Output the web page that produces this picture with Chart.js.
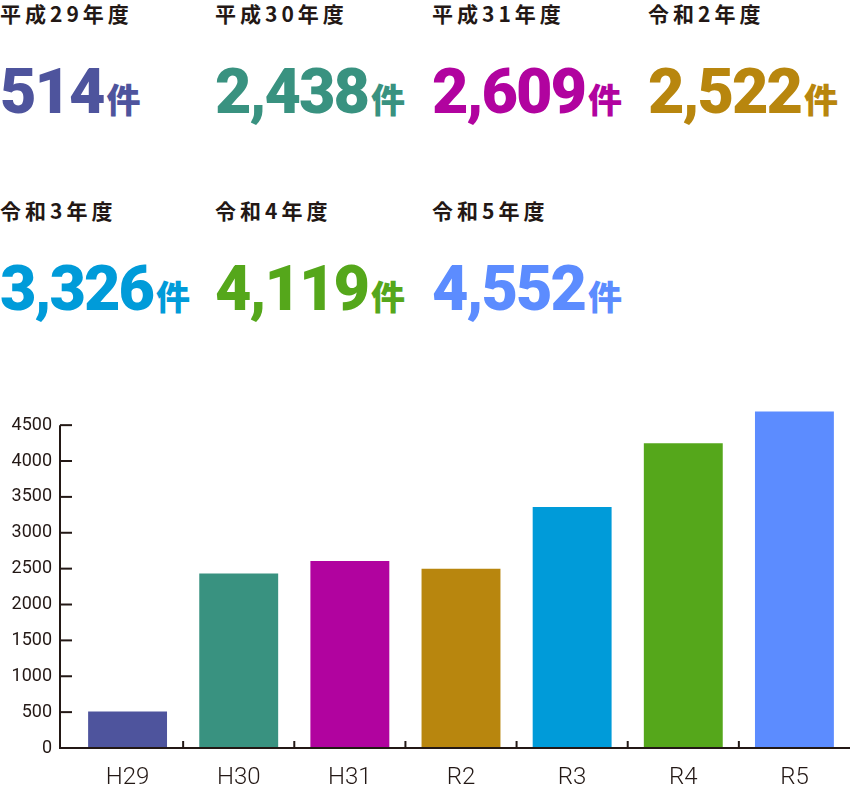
<!DOCTYPE html>
<html><head><meta charset="utf-8">
<script src="https://cdn.jsdelivr.net/npm/chart.js@4"></script>
<style>
body{margin:0;width:850px;height:804px;position:relative;background:#fff;font-family:"Noto Sans CJK JP",sans-serif;overflow:hidden}
.it{position:absolute}
.lb{font-size:21px;font-weight:bold;color:#231815;letter-spacing:4px;line-height:1}
.nm{font-family:Roboto,"Noto Sans CJK JP",sans-serif;font-size:63px;font-weight:900;letter-spacing:-2px;line-height:1;margin-top:36px}
.nm span{font-family:"Noto Sans CJK JP";font-size:34px;letter-spacing:0;margin-left:3px}
#wrap{position:absolute;left:0;top:380px;width:850px;height:424px}
</style></head><body>
<div id="hdr"></div>
<div id="wrap"><canvas id="c"></canvas></div>
<script>
const headerLabels=["平成29年度","平成30年度","平成31年度","令和2年度","令和3年度","令和4年度","令和5年度"];
const headerValues=["514","2,438","2,609","2,522","3,326","4,119","4,552"];
const categories=["H29","H30","H31","R2","R3","R4","R5"];
const values=[510,2433,2607,2500,3360,4247,4690];
const colors=["#4e549d","#399280","#b1039f","#b8860e","#009bd9","#55a71b","#5c8cff"];
const yTicks=[0,500,1000,1500,2000,2500,3000,3500,4000,4500];

const hdr=document.getElementById('hdr');
const xs=[0,215,432,648],ys=[3,200];
headerLabels.forEach((l,i)=>{
  const d=document.createElement('div');d.className='it';
  d.style.left=xs[i%4]+'px';d.style.top=ys[Math.floor(i/4)]+'px';
  d.innerHTML=`<div class="lb">${l}</div><div class="nm" style="color:${colors[i]}">${headerValues[i]}<span>件</span></div>`;
  hdr.appendChild(d);
});

const tickPlugin={id:'tk',afterDraw(ch){
  const c=ch.ctx,y=ch.scales.y,x=ch.scales.x,ax=x.left-12;
  c.save();c.strokeStyle='#231815';c.lineWidth=2;
  yTicks.forEach(v=>{const p=y.getPixelForValue(v);c.beginPath();c.moveTo(ax,p);c.lineTo(ax+12,p);c.stroke();});
  for(let i=1;i<categories.length;i++){const p=(x.getPixelForValue(i-1)+x.getPixelForValue(i))/2;c.beginPath();c.moveTo(p,y.bottom);c.lineTo(p,y.bottom-7);c.stroke();}
  c.beginPath();c.moveTo(ax,y.getPixelForValue(4500));c.lineTo(ax,y.bottom);c.lineTo(x.right,y.bottom);c.stroke();
  c.restore();
}};
new Chart(document.getElementById('c'),{type:'bar',
 data:{labels:categories,datasets:[{data:values,backgroundColor:colors,barPercentage:0.71,categoryPercentage:1}]},
 plugins:[tickPlugin],
 options:{responsive:true,maintainAspectRatio:false,animation:false,
  layout:{padding:0},
  plugins:{legend:{display:false},tooltip:{enabled:false}},
  scales:{
   y:{min:0,max:4700,afterBuildTicks(s){s.ticks=yTicks.map(v=>({value:v}));},
      afterFit(s){s.width=72;},
      grid:{display:false,drawTicks:false},border:{display:false},
      ticks:{color:'#231815',font:{family:'Roboto',size:18},padding:20,callback:v=>String(v)}},
   x:{afterFit(s){s.height=56;},grid:{display:false,drawTicks:false},border:{display:false},
      ticks:{color:'#231815',font:{family:'Roboto',size:24,weight:300},padding:16}}
  }}});
</script></body></html>
